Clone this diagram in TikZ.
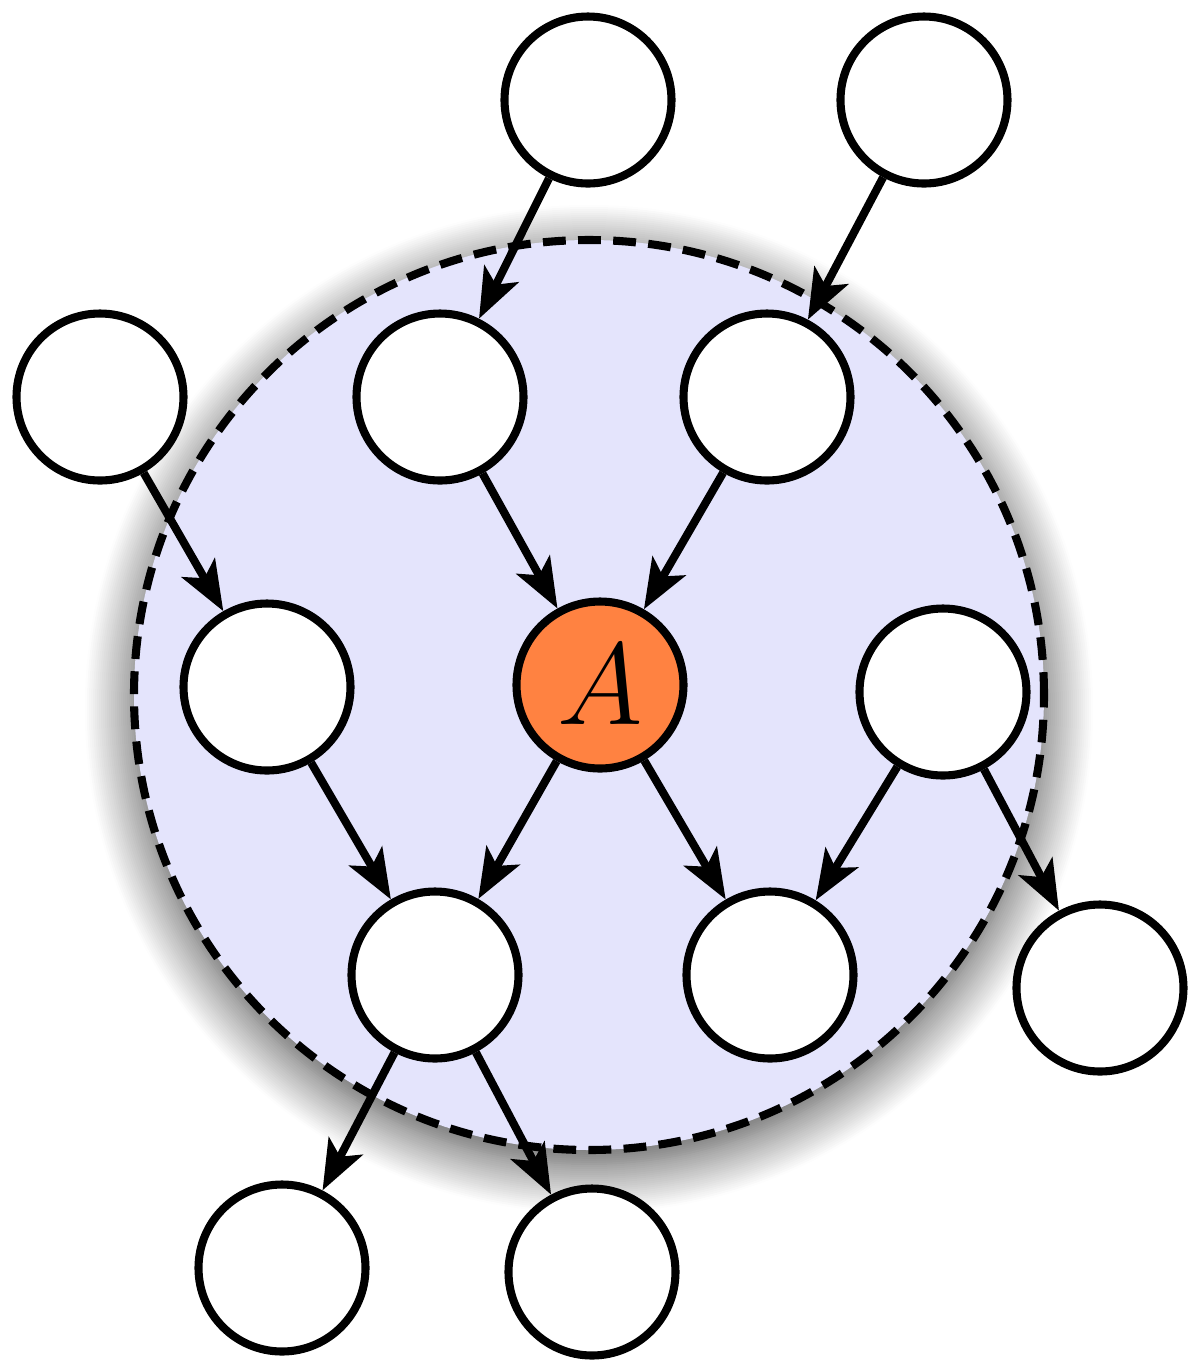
\documentclass[tikz,border=0pt]{standalone}
\usepackage{tikz}
\usetikzlibrary{arrows.meta,shadows.blur}
\definecolor{AOrange}{RGB}{255,130,65}
\definecolor{BlanketBlue}{RGB}{228,228,252}
\tikzset{
  every node/.style={
    font=\footnotesize
  }
}

\begin{document}
\begin{tikzpicture}[%
    vertex style/.style={
      shape=circle,
      draw=black,
      line width=2.3pt,
      fill=#1,
      minimum size=1.67cm,
      inner sep=0pt
    },
    vertex style/.default=white,
    edge style/.style={
      line width=2.3pt,
      -{Stealth[length=5mm,width=3.8mm,inset=1.2mm]}
    },
    blanket style/.style={
      shape=circle,
      fill=BlanketBlue,
      minimum size=9.1cm,
      blur shadow={shadow xshift=0pt,shadow yshift=-4pt,
        shadow blur radius=14pt,shadow blur steps=25,
        shadow opacity=75}
    }
  ]
    \useasboundingbox (0,0) rectangle (12,-13.7);
    % Markov blanket
    \node[blanket style] (blanket) at (5.89,-6.95) {};
    \draw[line width=2.3pt,dash pattern=on 6.5pt off 3.5pt]
      (blanket.center) circle (4.55);

    \node[vertex style] (top1) at (5.88,-1.00) {};
    \node[vertex style] (top2) at (9.24,-1.00) {};
    \node[vertex style] (left) at (1.00,-3.97) {};
    \node[vertex style] (par1) at (4.40,-3.97) {};
    \node[vertex style] (par2) at (7.67,-3.97) {};
    \node[vertex style] (cop1) at (2.67,-6.87) {};
    \node[vertex style=AOrange] (A) at (6.00,-6.85)
      {\Large\scalebox{2.3}{$A$}};
    \node[vertex style] (cop2) at (9.43,-6.92) {};
    \node[vertex style] (ch1) at (4.35,-9.75) {};
    \node[vertex style] (ch2) at (7.70,-9.75) {};
    \node[vertex style] (right) at (11.00,-9.88) {};
    \node[vertex style] (gch1) at (2.82,-12.68) {};
    \node[vertex style] (gch2) at (5.92,-12.72) {};

    \draw[edge style] (top1) -- (par1);
    \draw[edge style] (top2) -- (par2);
    \draw[edge style] (left) -- (cop1);
    \draw[edge style] (par1) -- (A);
    \draw[edge style] (par2) -- (A);
    \draw[edge style] (A) -- (ch1);
    \draw[edge style] (A) -- (ch2);
    \draw[edge style] (cop1) -- (ch1);
    \draw[edge style] (cop2) -- (ch2);
    \draw[edge style] (cop2) -- (right);
    \draw[edge style] (ch1) -- (gch1);
    \draw[edge style] (ch1) -- (gch2);
  \end{tikzpicture}
\end{document}
